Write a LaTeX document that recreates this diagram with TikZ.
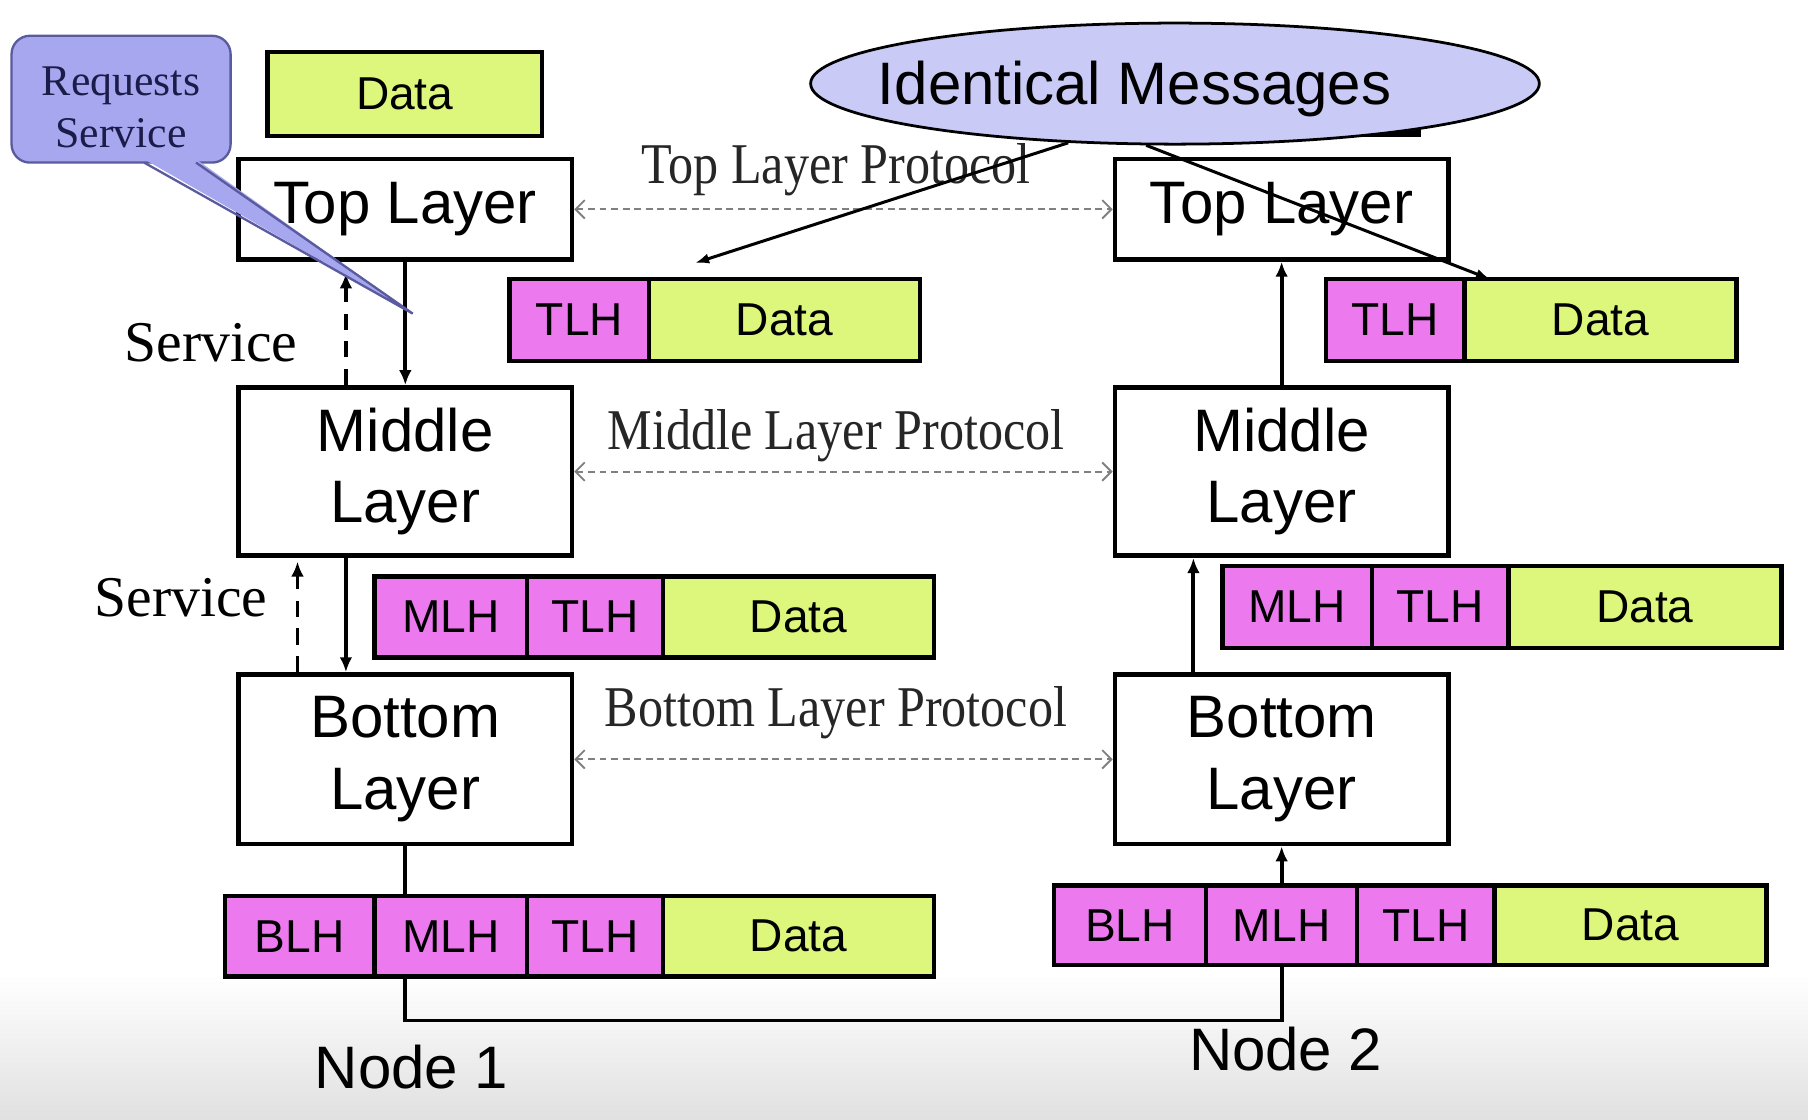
\documentclass[tikz,border=0pt]{standalone}
\usepackage{fontspec}
\setmainfont{Liberation Serif}
\newfontfamily\sansf{Liberation Sans}
\newfontfamily\protof[FakeStretch=0.87]{Liberation Serif}
\usetikzlibrary{arrows.meta,shapes.geometric}
\definecolor{hdr}{HTML}{EC7AEE}
\definecolor{dat}{HTML}{DDF67C}
\definecolor{callfill}{HTML}{A7A7F0}
\definecolor{callline}{HTML}{5A5A9E}
\definecolor{ellfill}{HTML}{CACAF6}
\definecolor{calltext}{HTML}{1C1C4A}
\begin{document}
\begin{tikzpicture}[x=0.5pt,y=-0.5pt,
 layer/.style={draw, line width=2pt, inner sep=0pt, align=center, fill=white, font=\sansf\fontsize{26}{31}\selectfont},
 cell/.style={draw, line width=2pt, inner sep=0pt, font=\sansf\fontsize{20}{24}\selectfont},
 hcell/.style={cell, fill=hdr},
 dcell/.style={cell, fill=dat},
 svc/.style={font=\fontsize{25}{30}\selectfont},
 proto/.style={font=\protof\fontsize{25}{30}\selectfont, text=black!85},
 protoarrow/.style={gray, line width=0.8pt, dash pattern=on 3pt off 2pt, {Straight Barb[length=4pt,width=8pt]}-{Straight Barb[length=4pt,width=8pt]}},
 flow/.style={line width=1.7pt, -{Latex[length=6.5pt,width=5.5pt]}},
 flowdash/.style={flow, dash pattern=on 7pt off 5pt},
 thinarrow/.style={line width=1.3pt, -{Latex[length=6pt,width=4.5pt]}},
 lbl/.style={font=\sansf\fontsize{26}{31}\selectfont}
]
\useasboundingbox (0,0) rectangle (1568,971);
\fill[white] (0,0) rectangle (1568,971);
\shade[top color=white, bottom color=black!12] (0,845) rectangle (1568,971);

% layer boxes
\node[layer, minimum width=144.5pt, minimum height=43.5pt] (topL) at (351.5,181.5) {Top Layer};
\node[layer, minimum width=144.5pt, minimum height=73pt] (midL) at (351.5,409) {Middle\\Layer};
\node[layer, minimum width=144.5pt, minimum height=73.5pt] (botL) at (351.5,658.5) {Bottom\\Layer};
\node[layer, minimum width=144.5pt, minimum height=43.5pt] (topR) at (1111.5,181.5) {Top Layer};
\node[layer, minimum width=144.5pt, minimum height=73pt] (midR) at (1111.5,409) {Middle\\Layer};
\node[layer, minimum width=144.5pt, minimum height=73.5pt] (botR) at (1111.5,658.5) {Bottom\\Layer};

% message rows
\node[dcell, minimum width=119pt, minimum height=36.5pt] (d0) at (351,81.5) {Data};

\node[hcell, minimum width=60.5pt, minimum height=35.5pt] (lT1) at (502.5,277.5) {TLH};
\node[dcell, minimum width=117.5pt, minimum height=35.5pt] (lT2) at (680.5,277.5) {Data};
\node[hcell, minimum width=60pt, minimum height=35.5pt] (rT1) at (1210,277.5) {TLH};
\node[dcell, minimum width=118pt, minimum height=35.5pt] (rT2) at (1388,277.5) {Data};

\node[hcell, minimum width=66pt, minimum height=35pt] (lM1) at (391,535) {MLH};
\node[hcell, minimum width=59pt, minimum height=35pt] (lM2) at (516,535) {TLH};
\node[dcell, minimum width=117.5pt, minimum height=35pt] (lM3) at (692.5,535) {Data};
\node[hcell, minimum width=65pt, minimum height=35.5pt] (rM1) at (1125,526.5) {MLH};
\node[hcell, minimum width=59pt, minimum height=35.5pt] (rM2) at (1249,526.5) {TLH};
\node[dcell, minimum width=118.5pt, minimum height=35.5pt] (rM3) at (1426.5,526.5) {Data};

\node[hcell, minimum width=65pt, minimum height=35pt] (lB1) at (260,812) {BLH};
\node[hcell, minimum width=66pt, minimum height=35pt] (lB2) at (391,812) {MLH};
\node[hcell, minimum width=59pt, minimum height=35pt] (lB3) at (516,812) {TLH};
\node[dcell, minimum width=117.5pt, minimum height=35pt] (lB4) at (692.5,812) {Data};
\node[hcell, minimum width=66pt, minimum height=34.5pt] (rB1) at (980,802.5) {BLH};
\node[hcell, minimum width=65.5pt, minimum height=34.5pt] (rB2) at (1111.5,802.5) {MLH};
\node[hcell, minimum width=59.5pt, minimum height=34.5pt] (rB3) at (1236.5,802.5) {TLH};
\node[dcell, minimum width=118pt, minimum height=34.5pt] (rB4) at (1414,802.5) {Data};

% service arrows, node 1
\draw[flow] (topL.south) -- (midL.north);
\draw[flowdash] ([xshift=-25.75pt]midL.north) -- ([xshift=-25.75pt,yshift=-5pt]topL.south);
\draw[flow] ([xshift=-25.75pt]midL.south) -- ([xshift=-25.75pt]botL.north);
\draw[flowdash] ([xshift=-46.75pt]botL.north) -- ([xshift=-46.75pt,yshift=-1.5pt]midL.south);

% node 2 arrows
\draw[flow] (midR.north) -- (topR.south);
\draw[flow] ([xshift=-38.25pt]botR.north) -- ([xshift=-38.25pt]midR.south);
\draw[flow] (rB2.north) -- (botR.south);

% physical link
\coordinate (c1) at (351.5,885);
\coordinate (c2) at (1111.5,885);
\draw[line width=1.7pt] (botL.south) -- (botL.south |- lB2.north);
\draw[line width=1.7pt] (botL.south |- lB2.south) -- (c1) -- (c2) -- (rB2.south);

% protocols
\draw[protoarrow] (topL.east) -- (topR.west);
\draw[protoarrow] (midL.east) -- (midR.west);
\draw[protoarrow] (botL.east) -- (botR.west);
\node[proto] (p1) at (725,147) {Top Layer Protocol};
\node[proto] (p2) at (725,378) {Middle Layer Protocol};
\node[proto] (p3) at (725,618) {Bottom Layer Protocol};

% labels
\node[svc] (s1) at (183,297) {Service};
\node[svc] (s2) at (157,518) {Service};
\node[lbl] (n1) at (357,925) {Node 1};
\node[lbl] (n2) at (1115,910) {Node 2};

% callout
\fill[callfill, draw=callline, line width=1pt, rounded corners=8pt] (10,31) rectangle (200,141);
\fill[callfill] (125,138) -- (358,272) -- (170,138) -- cycle;
\draw[callline, line width=1pt] (125,141) -- (358,272) -- (170,141);
\node[font=\fontsize{19}{22.5}\selectfont, text=calltext, align=center] (req) at (105,93) {Requests\\Service};

% identical messages
\fill (1100,109) rectangle (1232,119);
\node[ellipse, draw, line width=1.2pt, fill=ellfill, minimum width=316pt, minimum height=52.5pt, inner sep=0pt] (ell) at (1019,72.5) {};
\node[font=\sansf\fontsize{26}{31}\selectfont, inner sep=0pt] (ellt) at (984,77) {Identical Messages};
\coordinate (a1) at (603,228);
\coordinate (a2) at (1292,242);
\draw[thinarrow] (ell.209) -- (a1);
\draw[thinarrow] (ell.245) -- (a2);
\end{tikzpicture}
\end{document}
